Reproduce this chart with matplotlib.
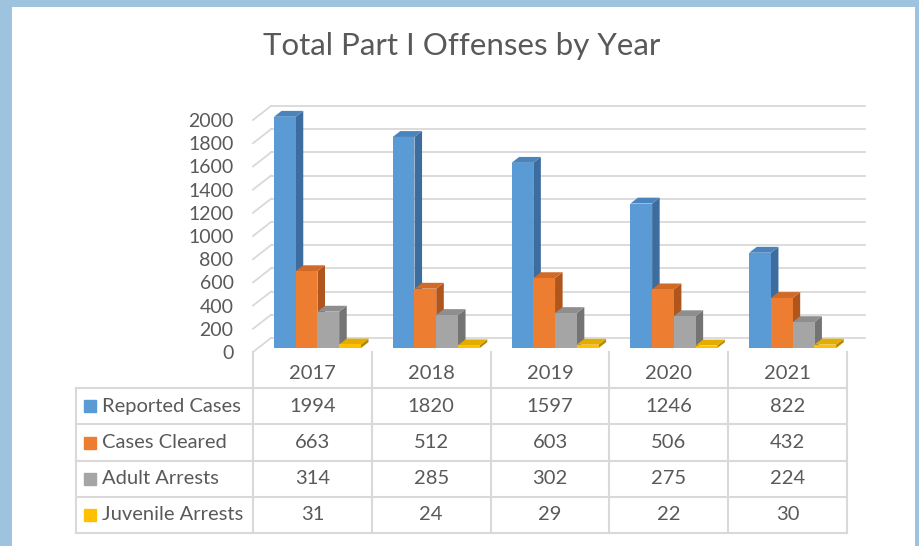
import numpy as np
import matplotlib
matplotlib.use("Agg")
import matplotlib.pyplot as plt
from matplotlib.patches import Polygon, Rectangle
from matplotlib.lines import Line2D
from matplotlib.transforms import Affine2D, IdentityTransform

# dane
years = ['2017', '2018', '2019', '2020', '2021']
series = ['Reported Cases', 'Cases Cleared', 'Adult Arrests', 'Juvenile Arrests']
reported = [1994, 1820, 1597, 1246, 822]
cleared = [663, 512, 603, 506, 432]
adult = [314, 285, 302, 275, 224]
juvenile = [31, 24, 29, 22, 30]
values = [reported, cleared, adult, juvenile]
yticks = list(range(0, 2001, 200))

front = ['#5B9BD5', '#ED7D31', '#A5A5A5', '#FFC000']
side = ['#3D6D9E', '#B0561C', '#747474', '#B58900']
top = ['#4A84BD', '#D06A26', '#8E8E8E', '#E3AC00']

plt.rcParams['font.family'] = ['Lato', 'DejaVu Sans']
txt = '#595959'
grid = '#D9D9D9'

W, H = 919, 546
fig = plt.figure(figsize=(W / 100, H / 100), dpi=100)

# ramka
fig.patches.append(Rectangle((0, 0), 1, 1, transform=fig.transFigure,
                             facecolor='#9DC3DE', edgecolor='none', zorder=-10))
fig.patches.append(Rectangle((12 / W, 0), (915 - 12) / W, (H - 7) / H,
                             transform=fig.transFigure, facecolor='white',
                             edgecolor='none', zorder=-9))

fig.text(462 / W, 1 - 46 / H, 'Total Part I Offenses by Year', ha='center',
         va='center', fontsize=22.5, color=txt)

# wykres
x0, x1 = 253, 847
y0, y1 = 352, 120
ax = fig.add_axes([x0 / W, 1 - y0 / H, (x1 - x0) / W, (y0 - y1) / H])
ax.set_xlim(-0.5, 4.5)
ax.set_ylim(0, 2000)
ax.set_facecolor('none')
for s in ax.spines.values():
    s.set_visible(False)
ax.set_xticks([])
ax.set_yticks(yticks)
ax.tick_params(axis='y', length=0, pad=14, labelsize=14, labelcolor=txt)

DX, DY = 18, 14  # glebokosc w pikselach
f0, f1 = 0.28, 0.70

def shift(f):
    return ax.transData + Affine2D().translate(f * DX, f * DY)

# siatka: sciana tylna i boczna
for v in yticks:
    ax.plot([-0.5, 4.5], [v, v], color=grid, lw=1.3, transform=shift(1),
            clip_on=False, zorder=0)
    p = ax.transData.transform((-0.5, v))
    fig.add_artist(Line2D([p[0], p[0] + DX], [p[1], p[1] + DY], color=grid,
                          lw=1.3, transform=None, zorder=0))

# slupki
n = len(series)
bw = 0.183
xs = np.arange(len(years))
d = np.array(((f1 - f0) * DX, (f1 - f0) * DY))
for i, vals in enumerate(values):
    off = (i - (n - 1) / 2) * bw
    bars = ax.bar(xs + off, vals, width=bw, color=front[i], transform=shift(f0),
                  clip_on=False)
    for j, (xc, h) in enumerate(zip(xs + off, vals)):
        z = 10 + j * 10 + i * 2
        bars[j].set_zorder(z + 1)
        r0 = ax.transData.transform((xc + bw / 2, 0)) + (f0 * DX, f0 * DY)
        l1 = ax.transData.transform((xc - bw / 2, h)) + (f0 * DX, f0 * DY)
        r1 = ax.transData.transform((xc + bw / 2, h)) + (f0 * DX, f0 * DY)
        ax.add_patch(Polygon([r0, r1, r1 + d, r0 + d], closed=True,
                             facecolor=side[i], edgecolor='none',
                             transform=IdentityTransform(), clip_on=False,
                             zorder=z))
        ax.add_patch(Polygon([l1, r1, r1 + d, l1 + d], closed=True,
                             facecolor=top[i], edgecolor='none',
                             transform=IdentityTransform(), clip_on=False,
                             zorder=z))
ax.set_xlim(-0.5, 4.5)
ax.set_ylim(0, 2000)

# tabela
c0 = -0.5 - (x0 - 76) / (x1 - x0) * 5
tax = fig.add_axes([76 / W, 1 - 533 / H, (x1 - 76) / W, (533 - 352) / H])
tax.set_xlim(c0, 4.5)
tax.set_ylim(5, 0)
tax.axis('off')
for r in range(1, 6):
    tax.plot([c0, 4.5], [r, r], color=grid, lw=1.5, clip_on=False)
tax.plot([c0, c0], [1, 5], color=grid, lw=1.5, clip_on=False)
for c in np.arange(-0.5, 4.6, 1):
    tax.plot([c, c], [0, 5], color=grid, lw=1.5, clip_on=False)

for j, yr in enumerate(years):
    tax.text(j, 0.6, yr, ha='center', va='center', fontsize=14.5, color=txt)
unit = 5 / (x1 - x0)
for i, (name, vals) in enumerate(zip(series, values)):
    yr = i + 1.5
    tax.plot(c0 + 14.5 * unit, yr, marker='s', ms=8.5, color=front[i],
             clip_on=False)
    tax.text(c0 + 26 * unit, yr, name, ha='left', va='center', fontsize=14.5,
             color=txt)
    for j, v in enumerate(vals):
        tax.text(j, yr, str(v), ha='center', va='center', fontsize=14.5,
                 color=txt)

fig.savefig('out.png', dpi=100)
